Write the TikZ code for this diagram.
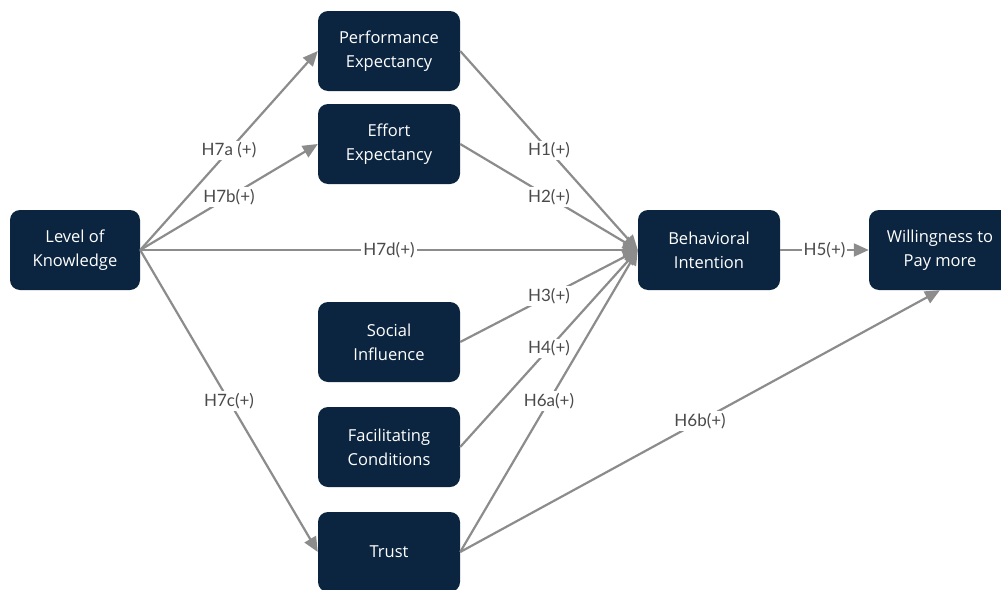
\documentclass[tikz,border=0pt]{standalone}
\usepackage{fontspec}
\setmainfont{Open Sans}
\newfontfamily\labelfont{Lato}
\usetikzlibrary{arrows.meta}

\definecolor{navy}{HTML}{0B2540}
\definecolor{linegray}{HTML}{8C8C8C}
\definecolor{labelgray}{HTML}{4A4A4A}

\tikzset{
  construct/.style={rectangle, rounded corners=10pt, fill=navy, text=white,
    minimum width=142pt, minimum height=80pt, align=center,
    font=\fontsize{16.5}{24}\selectfont},
  hyp/.style={draw=linegray, line width=2.2pt, -{Triangle[length=15pt,width=13pt]}},
  hlabel/.style={fill=white, text=labelgray, inner sep=2pt,
    font=\labelfont\fontsize{17}{20}\selectfont}
}

\begin{document}
\begin{tikzpicture}[x=1pt, y=-1pt]

      \clip (0,0) rectangle (1001,589);
      \useasboundingbox (0,0) rectangle (1001,589);

      % constructs
      \node[construct, minimum width=130pt] (know) at (75,250) {Level of\\Knowledge};
      \node[construct] (perf) at (389,51) {Performance\\Expectancy};
      \node[construct] (effort) at (389,144) {Effort\\Expectancy};
      \node[construct] (social) at (389,342) {Social\\Influence};
      \node[construct] (facil) at (389,447) {Facilitating\\Conditions};
      \node[construct] (trust) at (389,552) {Trust};
      \node[construct] (intent) at (709,250) {Behavioral\\Intention};
      \node[construct] (pay) at (940,250) {Willingness to\\Pay more};

      % hypotheses
      \draw[hyp] (know.east) -- node[hlabel] {H7a (+)} (perf.west);
      \draw[hyp] (know.east) -- node[hlabel] {H7b(+)} (effort.west);
      \draw[hyp] (know.east) -- node[hlabel] {H7d(+)} (intent.west);
      \draw[hyp] (know.east) -- node[hlabel] {H7c(+)} (trust.west);
      \draw[hyp] (perf.east) -- node[hlabel] {H1(+)} (intent.west);
      \draw[hyp] (effort.east) -- node[hlabel] {H2(+)} (intent.west);
      \draw[hyp] (social.east) -- node[hlabel] {H3(+)} (intent.west);
      \draw[hyp] (facil.east) -- node[hlabel] {H4(+)} (intent.west);
      \draw[hyp] (trust.east) -- node[hlabel] {H6a(+)} (intent.west);
      \draw[hyp] (trust.east) -- node[hlabel] {H6b(+)} (pay.south);
      \draw[hyp] (intent.east) -- node[hlabel] {H5(+)} (pay.west);

\end{tikzpicture}
\end{document}
